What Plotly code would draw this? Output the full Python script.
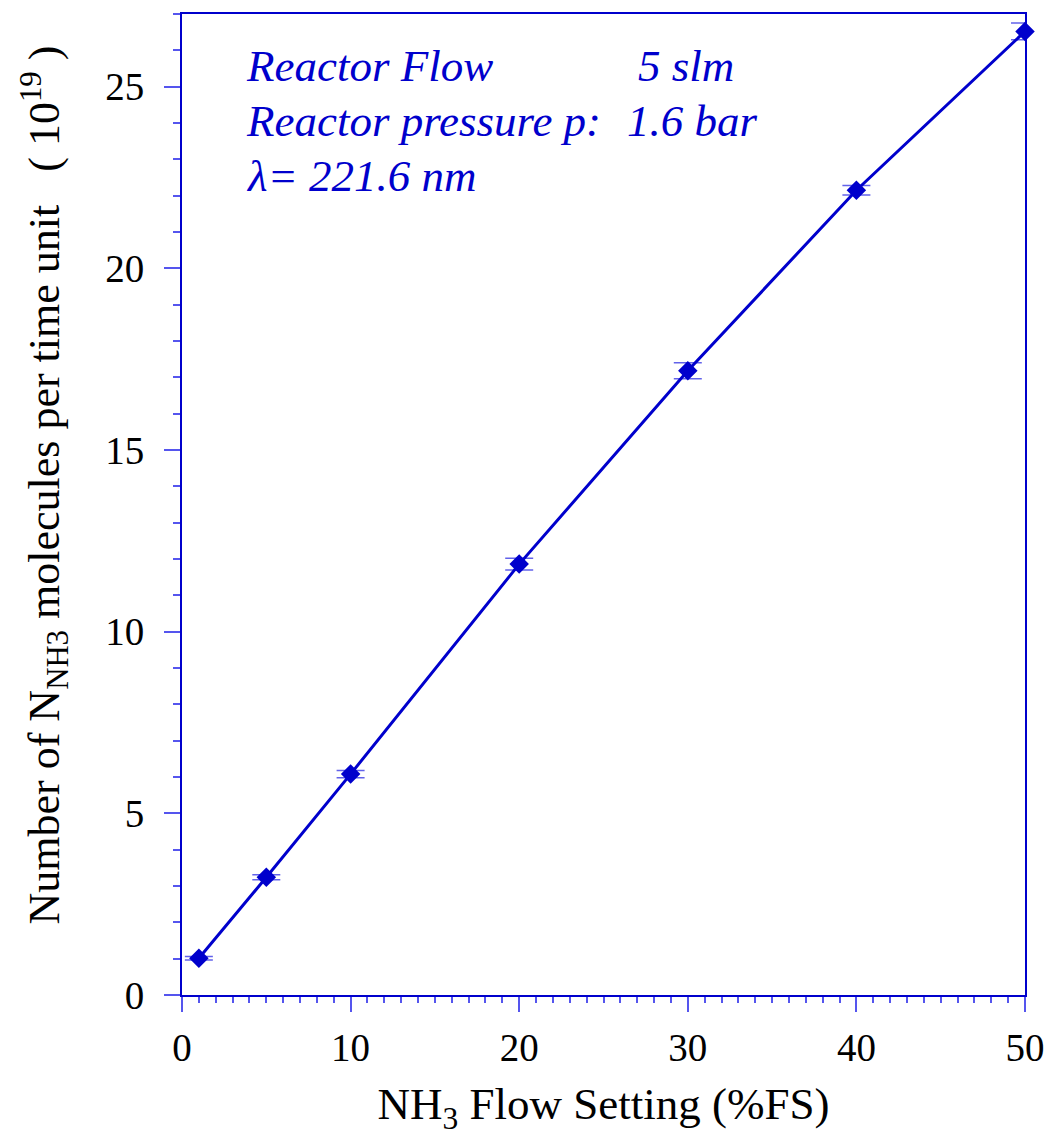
import plotly.graph_objects as go

flow_setting = [1, 5, 10, 20, 30, 40, 50]
n_molecules = [1.01, 3.24, 6.08, 11.86, 17.18, 22.15, 26.52]
n_error = [0.05, 0.07, 0.1, 0.16, 0.22, 0.13, 0.23]

x_ticks = [0, 10, 20, 30, 40, 50]
y_ticks = [0, 5, 10, 15, 20, 25]

BLUE = "#0000CC"
TICKBLUE = "#5555EE"
FONT = "Liberation Serif, Times New Roman, DejaVu Serif, serif"

fig = go.Figure()
fig.add_trace(go.Scatter(
    x=flow_setting, y=n_molecules,
    mode="lines+markers",
    line=dict(color=BLUE, width=3),
    marker=dict(symbol="diamond", size=15, color=BLUE),
    error_y=dict(type="data", array=n_error, visible=True,
                 color="rgba(70,70,230,0.85)", thickness=1.5, width=14),
    cliponaxis=False,
    showlegend=False,
))

fig.update_layout(
    width=1057, height=1136,
    margin=dict(l=182, r=22, t=12, b=141),
    plot_bgcolor="white", paper_bgcolor="white",
    font=dict(family=FONT, size=38, color="black"),
    xaxis=dict(
        range=[0, 50], tickvals=x_ticks, ticks="outside", ticklen=15,
        tickwidth=1.5, tickcolor=TICKBLUE,
        showline=True, linecolor=BLUE, linewidth=2, mirror=True,
        showgrid=False, zeroline=False,
        minor=dict(dtick=1, ticks="outside", ticklen=6, tickcolor=TICKBLUE, tickwidth=1.5, showgrid=False),
        tickfont=dict(size=39, family=FONT),
        ticklabelstandoff=2,
        title=dict(text="NH<sub>3</sub> Flow Setting (%FS)", font=dict(size=45, family=FONT), standoff=20),
    ),
    yaxis=dict(
        range=[0, 27], tickvals=y_ticks, ticks="outside", ticklen=16,
        tickwidth=1.5, tickcolor=TICKBLUE,
        showline=True, linecolor=BLUE, linewidth=2, mirror=True,
        showgrid=False, zeroline=False,
        minor=dict(dtick=1, ticks="outside", ticklen=7, tickcolor=TICKBLUE, tickwidth=1.5, showgrid=False),
        tickfont=dict(size=39, family=FONT),
        ticklabelstandoff=12,
    ),
)

fig.add_annotation(
    text="Number of N<sub>NH3</sub> molecules per time unit &nbsp;&nbsp;( 10<sup>19</sup> )",
    x=-0.163, y=0.52, xref="paper", yref="paper", textangle=-90,
    xanchor="center", yanchor="middle", showarrow=False,
    font=dict(size=44, family=FONT, color="black"),
)

ann_font = dict(family=FONT, size=45, color=BLUE, style="italic")
labels = [
    ("Reactor Flow", 0.074, 0.947),
    ("5 slm", 0.539, 0.947),
    ("Reactor pressure p:", 0.074, 0.891),
    ("1.6 bar", 0.525, 0.891),
    ("λ= 221.6 nm", 0.074, 0.835),
]
for text, xp, yp in labels:
    fig.add_annotation(text=text, x=xp, y=yp, xref="paper", yref="paper",
                       xanchor="left", yanchor="middle", showarrow=False, font=ann_font)

fig.write_html("out.html")
